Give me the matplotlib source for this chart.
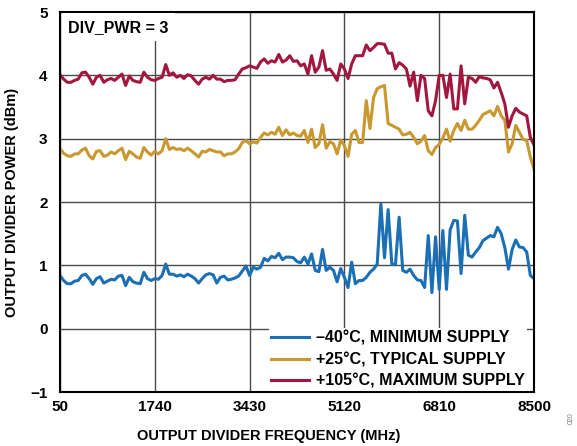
import numpy as np
import matplotlib
matplotlib.use("Agg")
import matplotlib.pyplot as plt

plt.rcParams['font.family'] = ['Liberation Sans', 'DejaVu Sans']
plt.rcParams['font.weight'] = 'bold'

# sweep grid: 50 MHz to 8500 MHz, 65 MHz step
freq = np.linspace(50, 8500, 131)

# -40C, minimum supply
p_cold = [0.84, 0.76, 0.71, 0.71, 0.75, 0.76, 0.84, 0.86, 0.79, 0.70, 0.79, 0.82, 0.72, 0.75, 0.78,
          0.77, 0.83, 0.84, 0.68, 0.81, 0.74, 0.72, 0.71, 0.89, 0.79, 0.76, 0.79, 0.78, 0.84, 1.02,
          0.86, 0.86, 0.83, 0.85, 0.82, 0.86, 0.83, 0.79, 0.72, 0.79, 0.85, 0.87, 0.85, 0.72,
          0.81, 0.83, 0.77, 0.78, 0.80, 0.83, 0.91, 0.99, 0.84, 0.97, 0.94, 0.97, 1.11, 1.07, 1.14,
          1.12, 1.19, 1.09, 1.13, 1.13, 1.12, 1.06, 1.04, 1.13, 1.02, 1.18, 0.92, 0.90, 1.25, 0.92,
          0.97, 0.92, 0.74, 0.95, 0.81, 0.65, 1.05, 0.71, 0.76, 0.76, 0.81, 0.89, 0.94,
          1.02, 1.97, 1.12, 1.88, 1.02, 1.01, 1.76, 0.92, 0.89, 0.94, 0.84, 0.77, 0.76, 0.65, 1.47,
          0.57, 1.45, 0.62, 1.55, 0.62, 1.56, 1.71, 1.70, 0.87, 1.79, 1.16, 1.13, 1.21, 1.28, 1.39,
          1.43, 1.47, 1.45, 1.60, 1.50, 1.28, 0.94, 1.25, 1.40, 1.29, 1.28, 1.21, 0.84, 0.79]

# +25C, typical supply
p_room = [2.84, 2.77, 2.73, 2.72, 2.76, 2.76, 2.82, 2.85, 2.73, 2.68, 2.80, 2.81, 2.72, 2.74, 2.79,
          2.76, 2.81, 2.85, 2.67, 2.80, 2.76, 2.71, 2.69, 2.86, 2.79, 2.74, 2.80, 2.76, 2.81, 3.00,
          2.83, 2.86, 2.83, 2.84, 2.81, 2.85, 2.81, 2.76, 2.71, 2.80, 2.79, 2.83, 2.81, 2.79,
          2.79, 2.73, 2.76, 2.76, 2.79, 2.84, 2.94, 2.97, 2.92, 2.95, 2.93, 3.02, 3.09, 3.06, 3.10,
          3.07, 3.18, 3.05, 3.14, 3.06, 3.09, 3.05, 3.04, 3.13, 2.94, 3.15, 2.86, 2.92, 3.22, 2.85,
          2.95, 2.92, 2.76, 2.98, 2.89, 2.72, 3.07, 3.13, 2.94, 2.94,
          3.60, 3.16, 3.65, 3.79, 3.82, 3.84, 3.24, 3.21, 3.18, 3.15, 3.06, 3.07, 3.10, 3.02, 2.92,
          2.96, 3.05, 2.81, 2.75, 2.86, 2.91,
          3.01, 3.15, 2.96, 3.13, 3.24, 3.13, 3.29, 3.15, 3.15, 3.21, 3.29, 3.38, 3.41, 3.44, 3.36,
          3.51, 3.36, 3.29, 2.79, 2.92, 3.21, 3.10, 2.99, 2.97, 2.71, 2.52]

# +105C, maximum supply
p_hot = [4.01, 3.94, 3.89, 3.89, 3.92, 3.94, 4.04, 4.05, 3.97, 3.86, 3.97, 4.00, 3.89, 3.93, 3.95,
         3.92, 3.97, 4.02, 3.84, 3.99, 3.92, 3.90, 3.89, 4.05, 3.97, 3.93, 3.92, 3.95, 3.97, 4.17,
         4.00, 4.04, 3.97, 4.00, 3.95, 4.01, 3.99, 3.92, 3.86, 3.94, 3.97, 3.94, 4.00, 3.94,
         3.94, 3.90, 3.92, 3.92, 3.93, 4.02,
         4.10, 4.12, 4.15, 4.13, 4.11, 4.21, 4.26, 4.19, 4.23, 4.21, 4.33, 4.21, 4.24, 4.31, 4.22,
         4.23, 4.15, 4.18,
         4.02, 4.31, 4.05, 4.13, 4.39, 4.08, 4.10, 4.02, 3.92, 4.18, 4.10, 3.95, 4.18, 4.31, 4.31,
         4.31, 4.48, 4.39, 4.44, 4.50, 4.50, 4.49, 4.35, 4.35, 4.10, 4.20, 4.16, 4.10, 3.83, 4.05,
         3.60, 4.00, 3.95, 3.44, 3.36, 3.60, 4.00,
         4.00, 3.65, 4.02, 3.47, 3.47, 4.15, 3.55, 3.97, 3.95, 3.89, 3.98, 3.96, 3.95, 3.93, 3.80,
         3.89, 3.73, 3.55, 3.18, 3.36, 3.48, 3.42, 3.39, 3.36, 3.02, 2.90]

labels = ['\u201340°C, MINIMUM SUPPLY', '+25°C, TYPICAL SUPPLY', '+105°C, MAXIMUM SUPPLY']
colors = ['#1a6fb5', '#c9982f', '#a3173f']
xticks = [50, 1740, 3430, 5120, 6810, 8500]
yticks = [-1, 0, 1, 2, 3, 4, 5]

fig = plt.figure(figsize=(5.77, 4.46), dpi=100)
ax = fig.add_axes([60 / 577, 1 - 392 / 446, 474 / 577, 380 / 446])

for vals, lab, col in zip([p_cold, p_room, p_hot], labels, colors):
    ax.plot(freq, vals, color=col, linewidth=2.2, label=lab)

ax.set_xlim(50, 8500)
ax.set_ylim(-1, 5)
ax.set_xticks(xticks)
ax.set_yticks(yticks)
ax.set_yticklabels([str(t).replace('-', '\u2212') for t in yticks])
ax.tick_params(length=0, labelsize=11)
ax.tick_params(axis='x', pad=6)
ax.tick_params(axis='y', pad=9)
ax.grid(True, color='#4a4a4a', linewidth=1.0)
ax.set_axisbelow(True)
for s in ax.spines.values():
    s.set_linewidth(1.5)
    s.set_color('black')

ax.text(0.017, 0.96, 'DIV_PWR = 3', transform=ax.transAxes, fontsize=11.5,
        fontweight='bold', ha='left', va='center',
        bbox=dict(boxstyle='square,pad=0.4', facecolor='white', edgecolor='none'))

leg = ax.legend(loc='lower right', bbox_to_anchor=(0.987, 0.0), fontsize=11.5,
                frameon=True, fancybox=False, framealpha=1, edgecolor='none',
                handlelength=2.4, handletextpad=0.4, labelspacing=0.4,
                borderaxespad=0.05, borderpad=0.15)

fig.text(12 / 577, 1 - 202 / 446, 'OUTPUT DIVIDER POWER (dBm)', fontsize=10.5,
         fontweight='bold', ha='center', va='center', rotation=90)
fig.text(269 / 577, 1 - 436 / 446, 'OUTPUT DIVIDER FREQUENCY (MHz)', fontsize=10.5,
         fontweight='bold', ha='center', va='center')
fig.text(571 / 577, 1 - 418 / 446, '020', fontsize=5, color='#777777',
         rotation=90, ha='center', va='center', fontweight='normal')

fig.savefig('out.png', dpi=100)
